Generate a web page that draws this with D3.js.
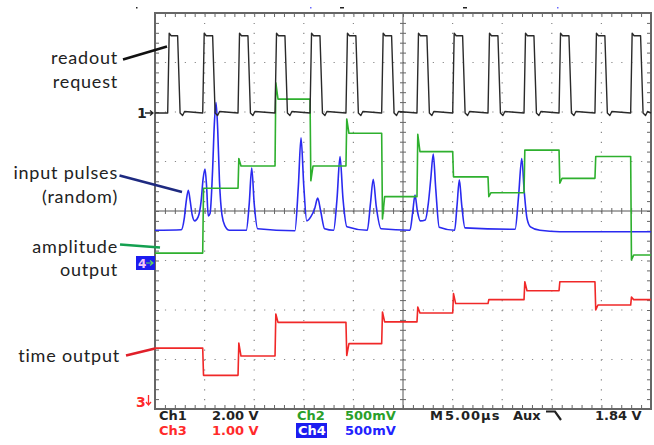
<!DOCTYPE html>
<html>
<head>
<meta charset="utf-8">
<script src="https://cdn.jsdelivr.net/npm/d3@7"></script>
<style>
  body { margin: 0; background: #fff; }
  svg { display: block; }
</style>
</head>
<body>
<script>
// horizontal axis in µs (5 µs/div), vertical axis in screen divisions (-4..4)

// Ch1: readout request pulses (rising edge times, µs)
const readoutStart = [1.28, 4.81, 8.37, 12.10, 15.63, 19.25, 22.85, 26.41, 30.01, 33.57, 37.20, 40.73, 44.35, 47.95]
const readoutLevel = [1.98, 3.54] // low, high (div)
const readoutWidth = 1.0

// Ch2: amplitude output, level after each readout edge (first = before any edge)
const amplitudeLevel = [-0.85, -0.85, 0.46, 0.91, 2.26, 0.91, 1.57, 0.29, 1.20, 0.69, 0.37, 1.23, 0.66, 1.10, -0.89]
const amplitudeGlitch = [0, 0, 0, 0.15, 0.33, -0.30, 0.29, -0.45, 0.35, 0, -0.08, 0, -0.10, 0, -0.10]

// Ch3: time output
const timeLevel = [-2.77, -2.77, -3.32, -2.93, -2.25, -2.25, -2.68, -2.24, -2.06, -1.87, -1.79, -1.61, -1.43, -1.90, -1.79]
const timeGlitch = [0, 0, 0, 0.26, 0.17, 0, -0.24, 0.20, 0.12, 0.20, 0, 0.18, 0, -0.10, 0.05]

// Ch4: input pulses, read point by point [µs, div]
const pulsePoints = [
  [0, -0.39], [2.65, -0.38], [2.95, -0.15], [3.15, 0.20], [3.36, 0.42], [3.55, 0.20], [3.75, -0.08],
  [4.00, -0.20], [4.35, -0.12], [4.65, 0.20], [4.85, 0.65], [5.04, 0.85], [5.20, 0.50], [5.37, -0.10],
  [5.55, -0.05], [5.80, 0.80], [5.98, 1.75], [6.15, 2.19], [6.32, 1.65], [6.50, 0.60], [6.75, -0.08],
  [7.05, -0.30], [7.50, -0.39], [9.20, -0.39], [9.50, 0.15], [9.75, 0.87], [10.00, 0.15], [10.35, -0.36],
  [14.10, -0.40], [14.45, 0.50], [14.72, 1.48], [15.00, 0.50], [15.30, -0.20], [15.70, -0.12],
  [16.10, 0.05], [16.40, 0.26], [16.70, 0.00], [17.10, -0.36], [18.00, -0.39], [18.35, 0.25],
  [18.65, 1.10], [18.95, 0.25], [19.35, -0.32], [21.40, -0.39], [21.72, 0.15], [22.00, 0.64],
  [22.30, 0.10], [22.80, -0.36], [25.70, -0.39], [25.98, -0.02], [26.21, 0.32], [26.45, 0.00],
  [26.75, -0.20], [27.25, -0.18], [27.55, 0.15], [27.80, 0.65], [28.05, 1.15], [28.30, 0.45],
  [28.65, -0.33], [30.20, -0.39], [30.45, 0.12], [30.68, 0.63], [30.92, 0.12], [31.25, -0.34],
  [36.30, -0.37], [36.65, 0.30], [36.97, 1.06], [37.22, 0.40], [37.50, -0.15], [37.85, -0.32],
  [38.80, -0.39], [40.80, -0.42], [50, -0.42]
]

const row1 = [
  { text: 'Ch1', color: '#222' }, { text: '2.00 V', color: '#222' },
  { text: 'Ch2', color: '#2aa02a' }, { text: '500mV', color: '#2aa02a' },
  { text: 'M', color: '#222' }, { text: '5.00µs', color: '#222' },
  { text: 'Aux', color: '#222' }, { text: '1.84 V', color: '#222' }
]
const row2 = [
  { text: 'Ch3', color: '#ff2a2a' }, { text: '1.00 V', color: '#ff2a2a' },
  { text: 'Ch4', color: '#fff' }, { text: '500mV', color: '#2222ff' }
]

const W = 654, H = 445
const svg = d3.select('body').append('svg').attr('width', W).attr('height', H)

const x = d3.scaleLinear().domain([0, 50]).range([155, 651])
const y = d3.scaleLinear().domain([-4, 4]).range([409, 13])

// ---- graticule
const grid = svg.append('g')
const dx = x(1) - x(0), dy = y(0) - y(0.2)

grid.selectAll('line.v')
  .data([5, 10, 15, 20, 30, 35, 40, 45])
  .enter().append('line')
  .attr('x1', d => x(d)).attr('x2', d => x(d))
  .attr('y1', y(4)).attr('y2', y(-4))
  .attr('stroke', '#888').attr('stroke-width', 1.2)
  .attr('stroke-dasharray', `1.2 ${dy - 1.2}`)

grid.selectAll('line.h')
  .data([-3, -2, -1, 1, 2, 3])
  .enter().append('line')
  .attr('y1', d => y(d)).attr('y2', d => y(d))
  .attr('x1', x(0)).attr('x2', x(50))
  .attr('stroke', '#888').attr('stroke-width', 1.2)
  .attr('stroke-dasharray', `1.2 ${dx - 1.2}`)

const noLabel = g => g.call(s => s.select('.domain').remove()).selectAll('line').attr('stroke', '#666')

// centre cross with minor ticks
grid.append('line').attr('x1', x(0)).attr('x2', x(50)).attr('y1', y(0)).attr('y2', y(0)).attr('stroke', '#555')
grid.append('line').attr('x1', x(25)).attr('x2', x(25)).attr('y1', y(4)).attr('y2', y(-4)).attr('stroke', '#555')
grid.append('g').attr('transform', `translate(0,${y(0) - 3})`)
  .call(d3.axisBottom(x).tickValues(d3.range(0, 50.01, 1)).tickSize(6).tickFormat('')).call(noLabel)
grid.append('g').attr('transform', `translate(${x(25) - 3},0)`)
  .call(d3.axisRight(y).tickValues(d3.range(-4, 4.01, 0.2)).tickSize(6).tickFormat('')).call(noLabel)

// frame ticks
grid.append('g').attr('transform', `translate(0,${y(4)})`)
  .call(d3.axisBottom(x).tickValues(d3.range(0, 50.01, 1)).tickSize(4).tickFormat('')).call(noLabel)
grid.append('g').attr('transform', `translate(0,${y(-4)})`)
  .call(d3.axisTop(x).tickValues(d3.range(0, 50.01, 1)).tickSize(4).tickFormat('')).call(noLabel)
grid.append('g').attr('transform', `translate(${x(0)},0)`)
  .call(d3.axisRight(y).tickValues(d3.range(-4, 4.01, 0.2)).tickSize(4).tickFormat('')).call(noLabel)
grid.append('g').attr('transform', `translate(${x(50)},0)`)
  .call(d3.axisLeft(y).tickValues(d3.range(-4, 4.01, 0.2)).tickSize(4).tickFormat('')).call(noLabel)

grid.append('rect')
  .attr('x', x(0)).attr('y', y(4))
  .attr('width', x(50) - x(0)).attr('height', y(-4) - y(4))
  .attr('fill', 'none').attr('stroke', '#666').attr('stroke-width', 2)

// ---- traces
const line = d3.line().x(d => x(d[0])).y(d => y(d[1]))
const smooth = d3.line().x(d => x(d[0])).y(d => y(d[1])).curve(d3.curveMonotoneX)

const stepTrace = (levels, glitch) => {
  const pts = [[0, levels[0]]]
  readoutStart.forEach((t, i) => {
    pts.push([t, levels[i]], [t + 0.08, levels[i + 1] + glitch[i + 1]], [t + 0.3, levels[i + 1]])
  })
  pts.push([50, levels[levels.length - 1]])
  return pts
}

const [lo, hi] = readoutLevel
const readoutTrace = [[0, lo]]
readoutStart.forEach(t => {
  readoutTrace.push(
    [t, lo], [t + 0.15, hi + 0.05], [t + 0.35, hi], [t + readoutWidth, hi],
    [t + readoutWidth + 0.25, lo], [t + readoutWidth + 0.5, lo - 0.05], [t + readoutWidth + 0.7, lo + 0.03]
  )
})
readoutTrace.push([50, lo])

const traces = svg.append('g').attr('fill', 'none').attr('stroke-width', 1.6).attr('stroke-linejoin', 'round')

traces.append('path').attr('d', line(stepTrace(timeLevel, timeGlitch))).attr('stroke', '#f02828')
traces.append('path').attr('d', smooth(pulsePoints)).attr('stroke', '#2a2af0')
traces.append('path').attr('d', line(stepTrace(amplitudeLevel, amplitudeGlitch))).attr('stroke', '#2eb02e')
traces.append('path').attr('d', line(readoutTrace)).attr('stroke', '#2a2a2a').attr('stroke-width', 1.4)

// ---- channel markers on the left edge
svg.append('text').attr('x', 137).attr('y', 118).text('1')
  .attr('font-family', 'DejaVu Sans').attr('font-weight', 'bold').attr('font-size', 14).attr('fill', '#222')
svg.append('path').attr('d', 'M145,113 H153 M150,110.5 L153,113 L150,115.5').attr('stroke', '#222').attr('fill', 'none').attr('stroke-width', 1.3)

svg.append('rect').attr('x', 136).attr('y', 256).attr('width', 19).attr('height', 14).attr('fill', '#1c1cf0')
svg.append('text').attr('x', 138).attr('y', 267.5).text('4')
  .attr('font-family', 'DejaVu Sans').attr('font-weight', 'bold').attr('font-size', 12).attr('fill', '#f3c8f5')
svg.append('path').attr('d', 'M146,263 H153 M150,260.5 L153,263 L150,265.5').attr('stroke', '#5fd35f').attr('fill', 'none').attr('stroke-width', 1.2)

svg.append('text').attr('x', 136).attr('y', 406.5).text('3')
  .attr('font-family', 'DejaVu Sans').attr('font-weight', 'bold').attr('font-size', 14).attr('fill', '#ff2a2a')
svg.append('path').attr('d', 'M148.5,395 V405 M146,402 L148.5,405 L151,402').attr('stroke', '#ff2a2a').attr('fill', 'none').attr('stroke-width', 1.3)

// trigger / position markers above the frame
svg.append('rect').attr('x', 136).attr('y', 7).attr('width', 1.5).attr('height', 1.5).attr('fill', '#222')
svg.append('rect').attr('x', 340).attr('y', 7).attr('width', 4).attr('height', 1.5).attr('fill', '#222')
svg.append('rect').attr('x', 463).attr('y', 7).attr('width', 4).attr('height', 1.5).attr('fill', '#222')
svg.append('rect').attr('x', 310).attr('y', 7).attr('width', 1.5).attr('height', 1.5).attr('fill', '#6a6aff')
svg.append('rect').attr('x', 557).attr('y', 7).attr('width', 1.5).attr('height', 1.5).attr('fill', '#6a6aff')

// ---- readout text under the screen
svg.append('rect').attr('x', 296).attr('y', 423).attr('width', 31).attr('height', 15).attr('fill', '#1c1cf0')
const status = svg.append('g').attr('font-family', 'DejaVu Sans').attr('font-weight', 'bold').attr('font-size', 13)
const row1X = [159, 212, 297, 345, 430, 445, 513, 595]
const row2X = [159, 212, 298, 345]
status.selectAll('text.r1').data(row1).enter().append('text')
  .attr('x', (d, i) => row1X[i]).attr('y', 420).attr('fill', d => d.color)
  .attr('letter-spacing', d => d.text === '5.00µs' ? 1 : 0)
  .text(d => d.text)
status.selectAll('text.r2').data(row2).enter().append('text')
  .attr('x', (d, i) => row2X[i]).attr('y', 435).attr('fill', d => d.color).text(d => d.text)
// falling-edge trigger symbol
svg.append('path').attr('d', 'M546,411.5 H555 L561,420').attr('stroke', '#222').attr('stroke-width', 2.2).attr('fill', 'none')

// ---- annotations
const notes = svg.append('g').attr('font-family', 'Lato').attr('font-size', 18).attr('fill', '#222')
  .attr('text-anchor', 'end').attr('letter-spacing', 0.8)
notes.append('text').attr('x', 118).attr('y', 64).text('readout')
notes.append('text').attr('x', 118).attr('y', 88).text('request')
notes.append('text').attr('x', 118).attr('y', 179).text('input pulses')
notes.append('text').attr('x', 118).attr('y', 203).text('(random)')
notes.append('text').attr('x', 118).attr('y', 253).text('amplitude')
notes.append('text').attr('x', 118).attr('y', 276).text('output')
notes.append('text').attr('x', 120).attr('y', 362).text('time output')

const pointers = svg.append('g').attr('stroke-width', 2.6).attr('stroke-linecap', 'butt')
pointers.append('line').attr('x1', 123).attr('y1', 59.5).attr('x2', 167).attr('y2', 46.5).attr('stroke', '#111')
pointers.append('line').attr('x1', 119.5).attr('y1', 175.5).attr('x2', 182).attr('y2', 192).attr('stroke', '#1e2a80')
pointers.append('line').attr('x1', 120).attr('y1', 244.5).attr('x2', 160).attr('y2', 247.5).attr('stroke', '#14a050')
pointers.append('line').attr('x1', 126).attr('y1', 355.5).attr('x2', 155).attr('y2', 348.5).attr('stroke', '#e0202a')
</script>
</body>
</html>
